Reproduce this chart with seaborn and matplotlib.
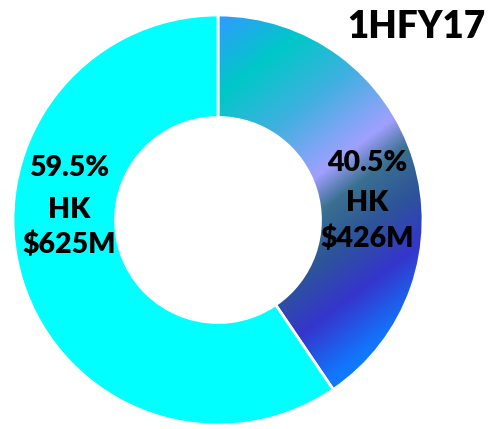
import numpy as np
import matplotlib
matplotlib.use("Agg")
import matplotlib.pyplot as plt
import seaborn as sns
from matplotlib.colors import LinearSegmentedColormap

# Werte
shares = [40.5, 59.5]
pct_labels = ["40.5%", "59.5%"]
region_labels = ["HK", "HK"]
amount_labels = ["$426M", "$625M"]
title = "1HFY17"

sns.set_theme(style="white")
plt.rcParams["font.family"] = ["Lato", "DejaVu Sans"]

# Farbverlauf fuer das kleinere Segment
grad_stops = [(-165, "#3399ff"), (-100, "#00c8c8"), (-40, "#40b0e0"), (24, "#a0a0ff"),
              (55, "#3a7090"), (95, "#2d5599"), (142, "#3535cc"), (195, "#1177ff"),
              (230, "#1a80ff")]
lo, hi = grad_stops[0][0], grad_stops[-1][0]
cmap = LinearSegmentedColormap.from_list(
    "verlauf", [((v - lo) / (hi - lo), c) for v, c in grad_stops])

fig = plt.figure(figsize=(4.89, 4.29), dpi=100)
ax = fig.add_axes([0, 0, 1, 1])

cx, cy, R = 218, 220, 205  # Pixel
wedges, _ = ax.pie(shares, colors=["none", "#00ffff"], startangle=90, counterclock=False,
                   radius=1.0, wedgeprops=dict(width=0.5, edgecolor="white", linewidth=2))

xmin, xmax = -cx / R, (489 - cx) / R
ymin, ymax = -(429 - cy) / R, cy / R
xx, yy = np.meshgrid(np.linspace(xmin, xmax, 600), np.linspace(ymax, ymin, 600))
t = R * (0.6 * xx - 0.8 * yy)
im = ax.imshow(t, cmap=cmap, vmin=lo, vmax=hi, extent=(xmin, xmax, ymin, ymax),
               zorder=0.5, aspect="auto", interpolation="bilinear")
im.set_clip_path(wedges[0])

ax.set_xlim(xmin, xmax)
ax.set_ylim(ymin, ymax)
ax.set_aspect("auto")
ax.axis("off")

# Beschriftungen (Pixelpositionen der Grundlinien)
label_pos = [(367, [171, 211, 247]), (69, [176, 218, 253])]
for i, (px, bases) in enumerate(label_pos):
    x = (px - cx) / R
    for txt, b in zip([pct_labels[i], region_labels[i], amount_labels[i]], bases):
        ax.text(x, (cy - b) / R, txt, ha="center", va="baseline",
                fontsize=20.5, fontweight="heavy", color="black")

fig.text(416 / 489, 1 - 38 / 429, title, ha="center", va="baseline",
         fontsize=26.5, fontweight="heavy", color="black")

fig.savefig("out.png", dpi=100)
